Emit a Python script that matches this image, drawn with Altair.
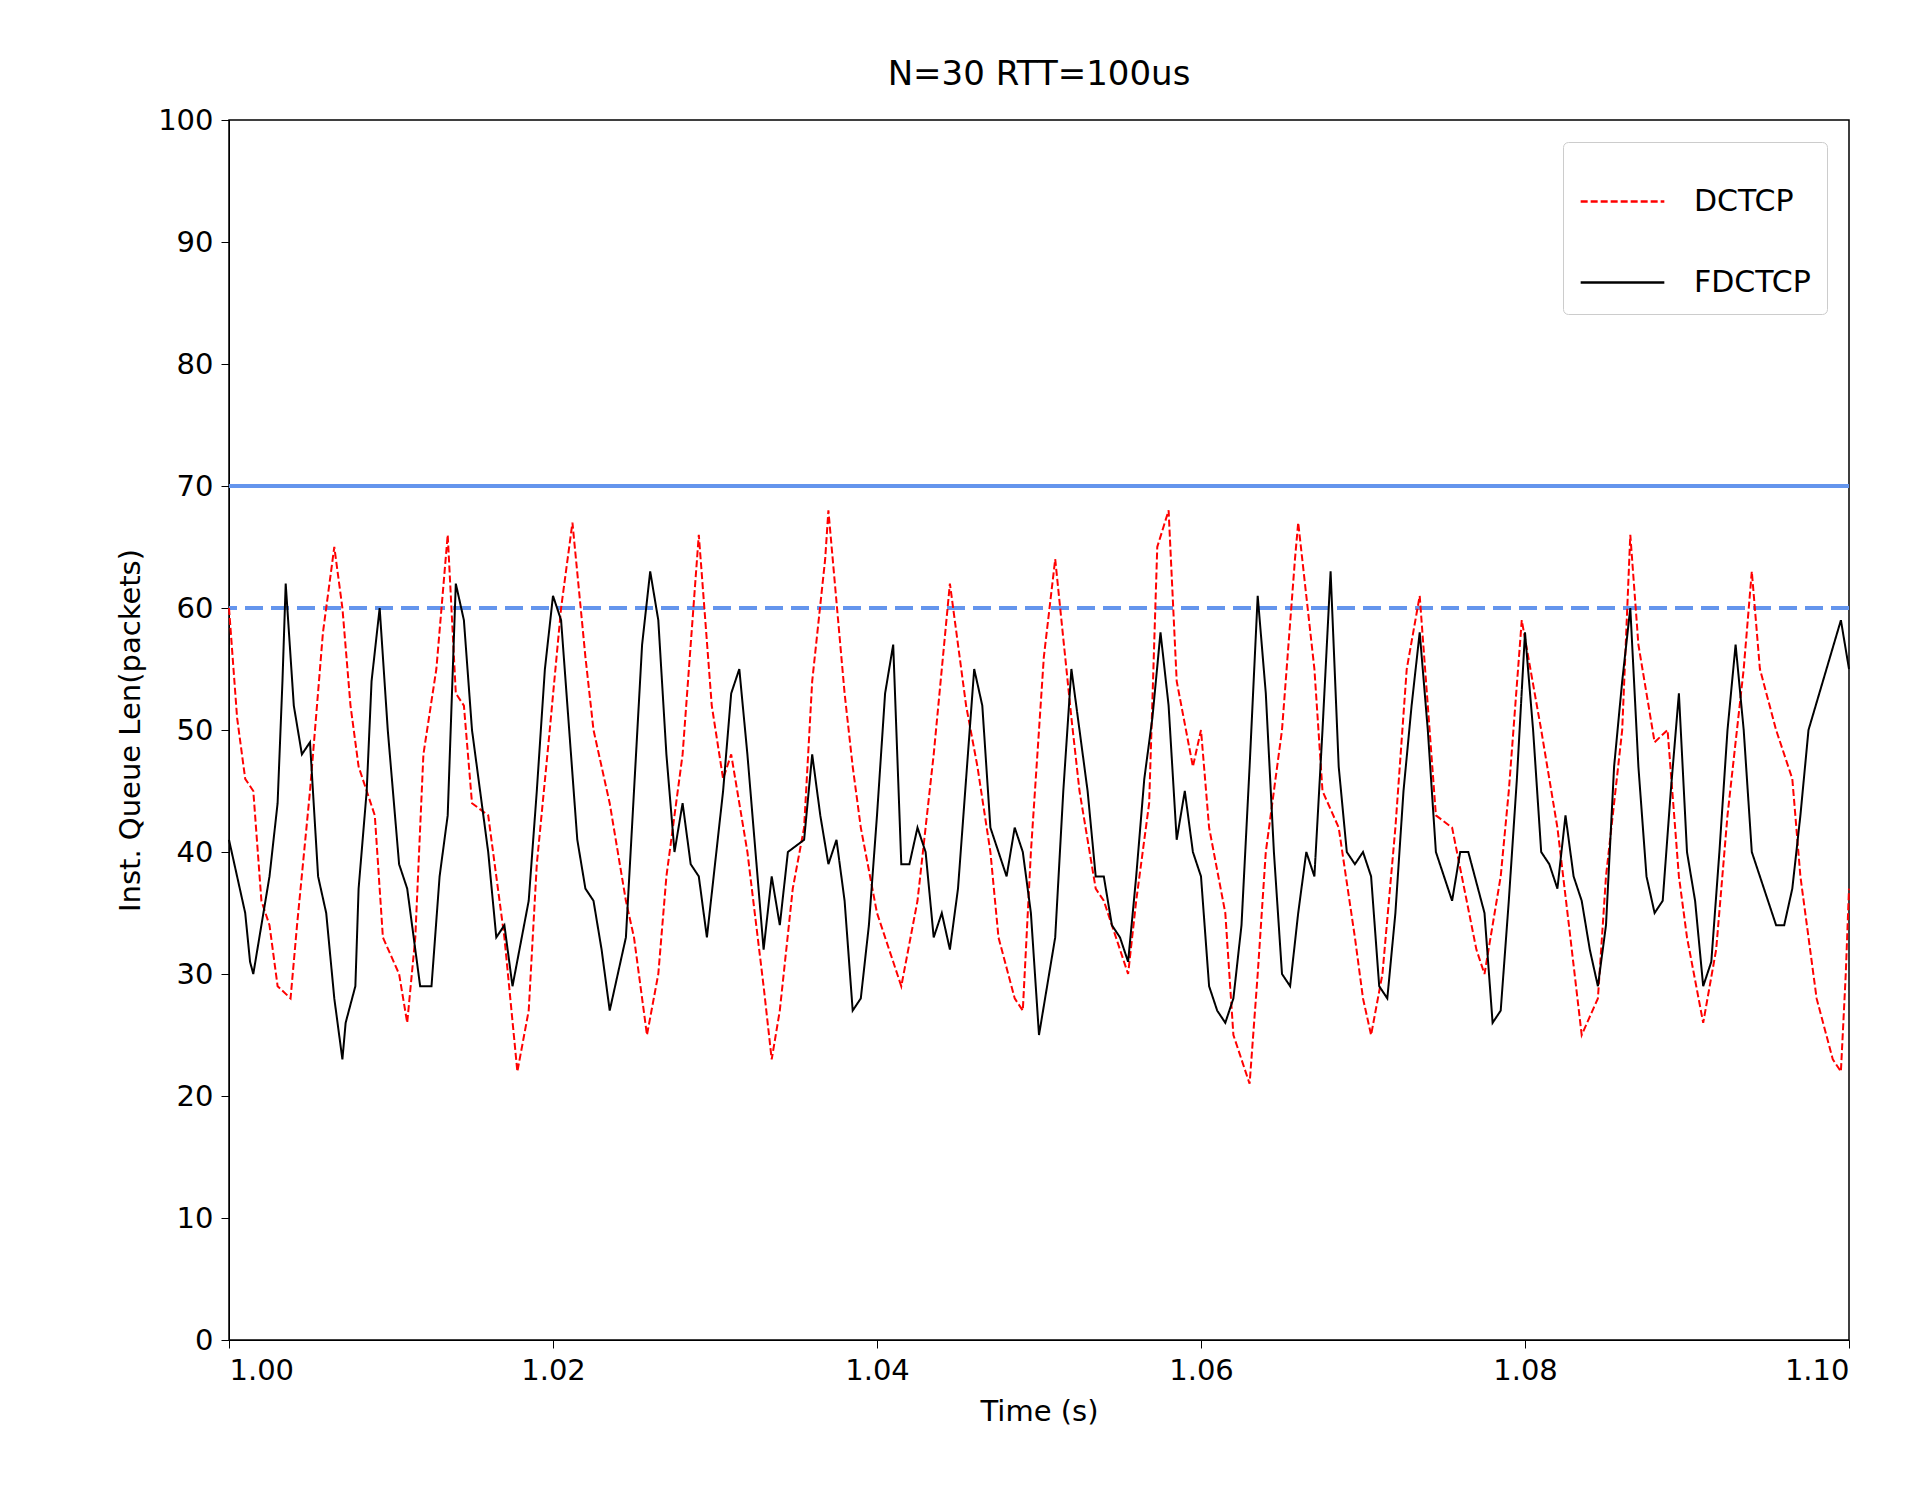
import altair as alt
import pandas as pd

d_t = [1.000,1.0005,1.001,1.0015,1.002,1.0025,1.003,1.0038,1.0042,1.005,1.0058,1.0065,1.007,1.0075,1.008,1.009,1.0095,1.0105,1.011,1.0115,1.012,1.0128,1.0135,1.014,1.0145,1.015,1.016,1.017,1.0178,1.0185,1.019,1.0198,1.0205,1.0212,1.022,1.0225,1.0235,1.0245,1.025,1.0258,1.0265,1.027,1.028,1.0285,1.029,1.0298,1.0305,1.031,1.032,1.033,1.0335,1.034,1.0348,1.0355,1.036,1.0368,1.037,1.038,1.0385,1.039,1.04,1.041,1.0415,1.0425,1.0435,1.0445,1.0455,1.0462,1.047,1.0475,1.0485,1.049,1.0495,1.0503,1.051,1.052,1.0525,1.0535,1.054,1.0555,1.056,1.0568,1.0573,1.058,1.0585,1.0595,1.06,1.0605,1.0615,1.062,1.063,1.0635,1.064,1.065,1.0658,1.066,1.067,1.0675,1.0685,1.0695,1.07,1.0705,1.0712,1.072,1.0727,1.0735,1.074,1.0745,1.0755,1.077,1.0775,1.0785,1.079,1.0798,1.081,1.082,1.0828,1.0835,1.0845,1.085,1.086,1.0865,1.087,1.088,1.0888,1.0895,1.09,1.091,1.0918,1.0925,1.0935,1.094,1.0945,1.0955,1.0965,1.097,1.098,1.099,1.0995,1.0998,1.1]
d_v = [60,51,46,45,36,34,29,28,34,45,58,65,60,52,47,43,33,30,26,33,48,55,66,53,52,44,43,33,22,27,39,50,60,67,56,50,44,36,33,25,30,38,48,57,66,52,46,48,40,29,23,27,37,42,54,64,68,53,47,42,35,31,29,36,48,62,52,47,40,33,28,27,40,56,64,51,45,37,36,30,36,44,65,68,54,47,50,42,35,25,21,30,40,50,64,67,55,45,42,33,28,25,30,42,55,61,52,43,42,32,30,38,45,59,50,42,33,25,28,38,50,66,57,49,50,38,33,26,32,43,55,63,55,50,46,38,28,23,22,30,37]

f_t = [1.000,1.001,1.0013,1.0015,1.0025,1.003,1.0033,1.0035,1.004,1.0045,1.005,1.0055,1.006,1.0065,1.007,1.0072,1.0078,1.008,1.0085,1.0088,1.0093,1.0098,1.0105,1.011,1.0118,1.0125,1.013,1.0135,1.014,1.0145,1.015,1.016,1.0165,1.017,1.0175,1.0185,1.019,1.0195,1.02,1.0205,1.021,1.0215,1.022,1.0225,1.023,1.0235,1.0245,1.025,1.0255,1.026,1.0265,1.027,1.0275,1.028,1.0285,1.029,1.0295,1.0305,1.031,1.0315,1.032,1.033,1.0335,1.034,1.0345,1.0355,1.036,1.0365,1.037,1.0375,1.038,1.0385,1.039,1.0395,1.04,1.0405,1.041,1.0415,1.042,1.0425,1.043,1.0435,1.044,1.0445,1.045,1.046,1.0465,1.047,1.048,1.0485,1.049,1.0495,1.05,1.051,1.0515,1.052,1.0525,1.053,1.0535,1.054,1.0545,1.055,1.0555,1.056,1.0565,1.057,1.0575,1.058,1.0585,1.059,1.0595,1.06,1.0605,1.061,1.0615,1.062,1.0625,1.063,1.0635,1.064,1.0645,1.065,1.0655,1.066,1.0665,1.067,1.0675,1.068,1.0685,1.069,1.0695,1.07,1.0705,1.071,1.0715,1.072,1.0725,1.073,1.0735,1.074,1.0745,1.075,1.0755,1.076,1.0765,1.0775,1.078,1.0785,1.079,1.0795,1.08,1.0805,1.081,1.0815,1.082,1.0825,1.083,1.0835,1.084,1.0845,1.085,1.0855,1.086,1.0865,1.087,1.0875,1.088,1.0885,1.089,1.0895,1.09,1.0905,1.091,1.0915,1.092,1.0925,1.093,1.0935,1.094,1.0945,1.095,1.0955,1.096,1.0965,1.097,1.0975,1.0995,1.1]
f_v = [41,35,31,30,38,44,54,62,52,48,49,38,35,28,23,26,29,37,45,54,60,50,39,37,29,29,38,43,62,59,50,40,33,34,29,36,45,55,61,59,50,41,37,36,32,27,33,45,57,63,59,48,40,44,39,38,33,45,53,55,48,32,38,34,40,41,48,43,39,41,36,27,28,34,43,53,57,39,39,42,40,33,35,32,37,55,52,42,38,42,40,35,25,33,45,55,50,45,38,38,34,33,31,38,46,51,58,52,41,45,40,38,29,27,26,28,34,47,61,53,40,30,29,35,40,38,50,63,47,40,39,40,38,29,28,35,45,52,58,50,40,38,36,40,40,35,26,27,36,46,58,50,40,39,37,43,38,36,32,29,34,47,54,60,47,38,35,36,45,53,40,36,29,31,40,50,57,50,40,38,36,34,34,37,43,50,59,55]

df = pd.concat([
    pd.DataFrame({"t": d_t, "q": d_v, "s": "DCTCP"}),
    pd.DataFrame({"t": f_t, "q": f_v, "s": "FDCTCP"}),
])

x = alt.X("t:Q", scale=alt.Scale(domain=[1.0, 1.1], nice=False),
          axis=alt.Axis(title="Time (s)", format=".2f", values=[1.0,1.02,1.04,1.06,1.08,1.1]))
y = alt.Y("q:Q", scale=alt.Scale(domain=[0, 100], nice=False),
          axis=alt.Axis(title="Inst. Queue Len(packets)", values=list(range(0, 101, 10))))

lines = alt.Chart(df).mark_line(strokeWidth=2).encode(
    x=x, y=y,
    color=alt.Color("s:N", scale=alt.Scale(domain=["DCTCP", "FDCTCP"], range=["red", "black"]),
                    legend=alt.Legend(title=None, orient="top-right", strokeColor="#cccccc",
                                      fillColor="white", padding=16, cornerRadius=5,
                                      labelFontSize=30, symbolSize=7000, symbolStrokeWidth=2.5,
                                      labelOffset=28, rowPadding=22, offset=22)),
    strokeDash=alt.StrokeDash("s:N", scale=alt.Scale(domain=["DCTCP", "FDCTCP"], range=[[7, 3], [1, 0]]),
                              legend=None),
)

rules = pd.DataFrame({"yv": [70, 60], "kind": ["solid", "dash"]})
r1 = alt.Chart(rules[rules.kind == "solid"]).mark_rule(color="cornflowerblue", strokeWidth=4).encode(y="yv:Q")
r2 = alt.Chart(rules[rules.kind == "dash"]).mark_rule(color="cornflowerblue", strokeWidth=4, strokeDash=[18, 8]).encode(y="yv:Q")

chart = alt.layer(r1, r2, lines).properties(
    width=1620, height=1220,
    padding={"left": 108, "top": 50, "right": 5, "bottom": 5},
    title=alt.TitleParams("N=30 RTT=100us", fontSize=34, fontWeight="normal", font="DejaVu Sans", offset=14),
).configure_view(stroke="black", strokeWidth=1.5).configure_axis(
    grid=False, domainColor="black", tickColor="black", labelFont="DejaVu Sans", titleFont="DejaVu Sans",
    labelFontSize=29, titleFontSize=29, titleFontWeight="normal", labelColor="black", titleColor="black",
    tickSize=8, labelPadding=8, titlePadding=12,
).configure_legend(labelFont="DejaVu Sans")

chart.save("out.html", embed_options={"renderer": "svg", "actions": False})
